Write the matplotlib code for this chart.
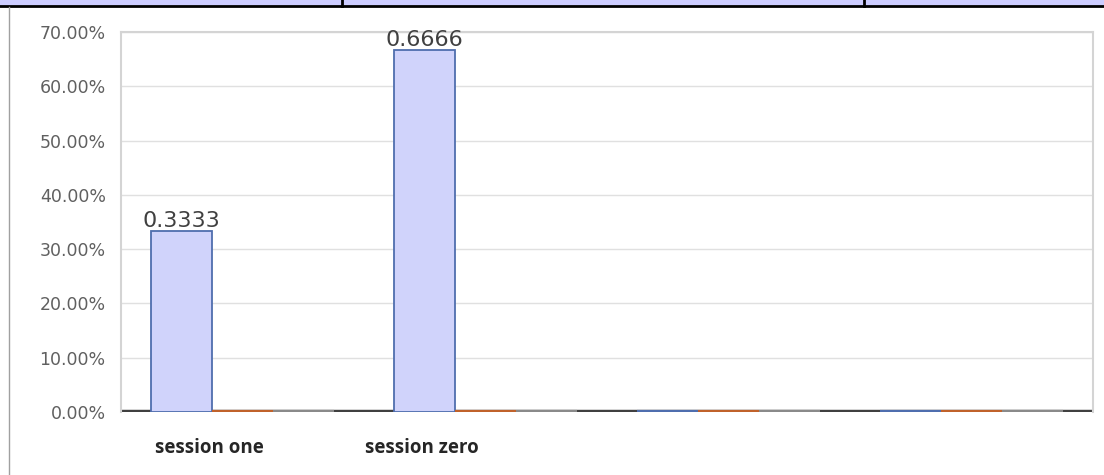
import matplotlib
matplotlib.use("Agg")
import matplotlib.pyplot as plt
from matplotlib.lines import Line2D
from matplotlib.patches import Rectangle
import numpy as np

# chart data
categories = ["session one", "session zero", "", ""]
series_a = [0.3333, 0.6666, 0.0, 0.0]
series_b = [0.0, 0.0, 0.0, 0.0]
series_c = [0.0, 0.0, 0.0, 0.0]
labels_a = ["0.3333", "0.6666", "", ""]
y_ticks = [0.0, 0.1, 0.2, 0.3, 0.4, 0.5, 0.6, 0.7]

fig = plt.figure(figsize=(11.04, 4.75), dpi=100)
ax = fig.add_axes([121 / 1104, 63 / 475, 972 / 1104, 380 / 475])

x = np.arange(len(categories))
width = 0.25
series = [
    (series_a, "#d0d3fb", "#4f6eae"),
    (series_b, "#f4c9a8", "#c0622b"),
    (series_c, "#d9d9d9", "#8a8a8a"),
]

ax.set_xlim(-0.5, len(categories) - 0.5)
ax.set_ylim(0, 0.7)

# dark axis line along zero
ax.axhline(0, color="#404040", lw=3.2, zorder=2)

for i, (vals, face, edge) in enumerate(series):
    pos = x + (i - 1) * width
    ax.bar(pos, vals, width, color=face, edgecolor=edge, linewidth=1.3, zorder=3)
    for p, v in zip(pos, vals):
        if v == 0:
            ax.plot([p - width / 2, p + width / 2], [0, 0], color=edge,
                    lw=3, solid_capstyle="butt", zorder=4)

for p, v, t in zip(x - width, series_a, labels_a):
    if t:
        ax.annotate(t, (p, v), xytext=(0, 0), textcoords="offset points",
                    ha="center", va="bottom", fontsize=16,
                    family="DejaVu Sans", color="#404040", zorder=5)

ax.set_yticks(y_ticks)
ax.set_yticklabels([f"{t * 100:.2f}%" for t in y_ticks],
                   fontsize=12.5, family="DejaVu Sans", color="#606060")

# the category labels sit a little left of the bar groups in the original
label_shift = x * 0.873 - 0.135
ax.set_xticks(label_shift)
ax.set_xticklabels(categories, fontsize=13.5, fontweight="bold",
                   family="Open Sans", color="#262626")
ax.tick_params(axis="both", length=0)
ax.tick_params(axis="y", pad=11)
ax.tick_params(axis="x", pad=19)
ax.grid(axis="y", color="#e0e0e0", lw=1, zorder=0)
ax.set_xlim(-0.5, len(categories) - 0.5)
for s in ax.spines.values():
    s.set_color("#d4d4d4")
    s.set_linewidth(1.5)
ax.spines["bottom"].set_visible(False)

# page bits around the chart: lavender table strip at top and left rule
fig.patches.append(Rectangle((0, 469 / 475), 1, 6 / 475, transform=fig.transFigure,
                             facecolor="#ccccff", edgecolor="none"))
fig.lines.append(Line2D([0, 1], [469 / 475, 469 / 475], transform=fig.transFigure,
                        color="black", lw=2))
for xp in [342, 864]:
    fig.lines.append(Line2D([xp / 1104, xp / 1104], [469 / 475, 1],
                            transform=fig.transFigure, color="black", lw=2))
fig.lines.append(Line2D([8.5 / 1104, 8.5 / 1104], [0, 468 / 475],
                        transform=fig.transFigure, color="#a0a0a0", lw=1))

fig.savefig("out.png", dpi=100)
